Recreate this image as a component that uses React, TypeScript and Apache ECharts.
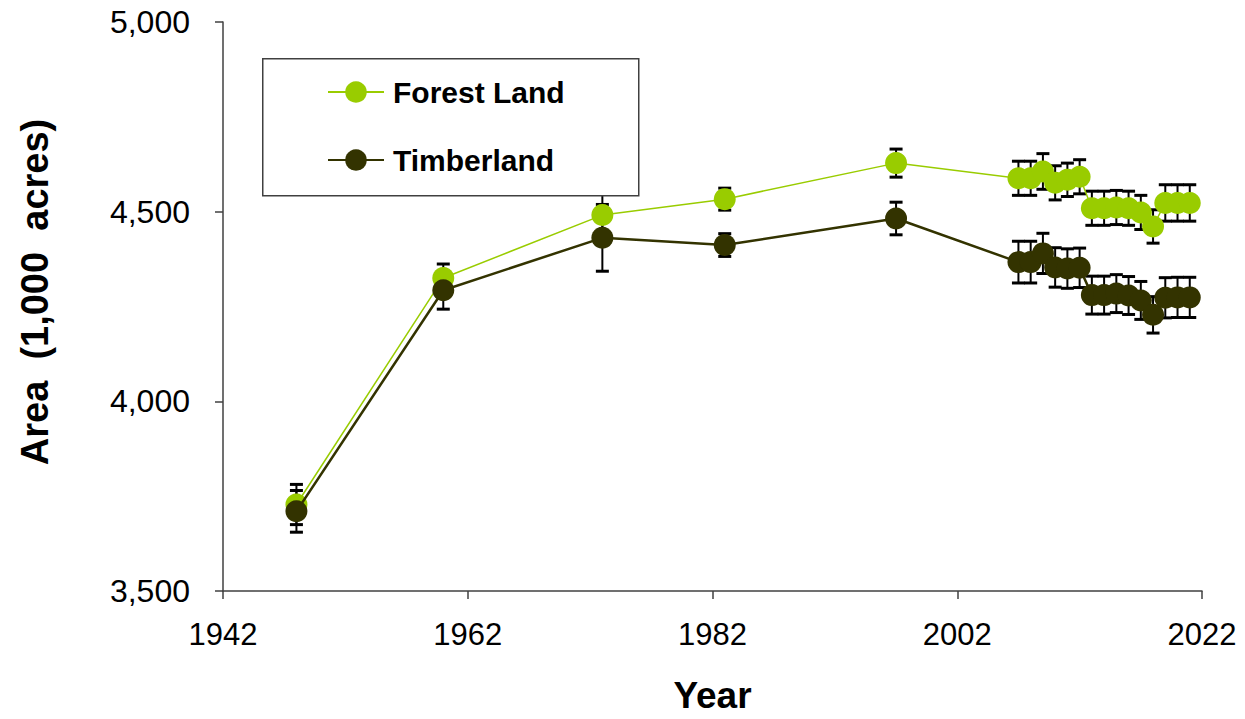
import React, { useEffect, useRef } from "react";
import * as echarts from "echarts";

const years = [1948, 1960, 1973, 1983, 1997, 2007, 2008, 2009, 2010, 2011, 2012, 2013, 2014, 2015, 2016, 2017, 2018, 2019, 2020, 2021];
const forestLand = [3728, 4325, 4491, 4533, 4628, 4588, 4588, 4606, 4576, 4584, 4592, 4509, 4509, 4511, 4509, 4498, 4461, 4523, 4523, 4523];
const forestErr = [53, 37, 60, 29, 37, 45, 45, 47, 45, 44, 45, 45, 45, 45, 45, 45, 44, 48, 48, 48];
const timberland = [3710, 4293, 4431, 4412, 4482, 4367, 4367, 4390, 4353, 4350, 4352, 4280, 4280, 4284, 4279, 4266, 4228, 4273, 4274, 4274];
const timberErr = [55, 50, 88, 30, 43, 55, 55, 53, 52, 52, 52, 50, 50, 50, 50, 50, 48, 53, 53, 53];
const xTicks = [1942, 1962, 1982, 2002, 2022];

const FOREST = "#99CC00";
const TIMBER = "#333300";
const FONT = "Liberation Sans, Arial, sans-serif";

function errData(vals: number[], errs: number[]) {
  return years.map((y, i) => [y, vals[i] - errs[i], vals[i] + errs[i]]);
}

function renderErr(params: any, api: any) {
  const x = api.value(0);
  const lo = api.coord([x, api.value(1)]);
  const hi = api.coord([x, api.value(2)]);
  const w = 6.5;
  const st = { stroke: "#000", lineWidth: 2 };
  const cap = { stroke: "#000", lineWidth: 3 };
  return {
    type: "group",
    children: [
      { type: "line", shape: { x1: hi[0], y1: hi[1], x2: lo[0], y2: lo[1] }, style: st },
      { type: "line", shape: { x1: hi[0] - w, y1: hi[1], x2: hi[0] + w, y2: hi[1] }, style: cap },
      { type: "line", shape: { x1: lo[0] - w, y1: lo[1], x2: lo[0] + w, y2: lo[1] }, style: cap },
    ],
  };
}

export default function App() {
  const ref = useRef<HTMLDivElement>(null);
  useEffect(() => {
    if (!ref.current) return;
    const chart = echarts.init(ref.current, undefined, { renderer: "svg" });
    const legendText = { fontFamily: FONT, fontSize: 30, fontWeight: "bold", color: "#000", padding: [0, 0, 0, 4] };
    chart.setOption({
      animation: false,
      backgroundColor: "#fff",
      grid: { left: 223, right: 43, top: 22, bottom: 128, containLabel: false, outerBoundsMode: "none" },
      xAxis: {
        type: "value",
        min: 1942,
        max: 2022,
        name: "Year",
        nameLocation: "middle",
        nameGap: 86,
        nameTextStyle: { fontFamily: FONT, fontSize: 37, fontWeight: "bold", color: "#000" },
        axisLine: { lineStyle: { color: "#404040", width: 1.5 } },
        axisTick: { show: true, length: 8, inside: false, customValues: xTicks, lineStyle: { color: "#404040", width: 1.5 } },
        axisLabel: {
          customValues: xTicks,
          margin: 28,
          fontFamily: FONT,
          fontSize: 31,
          color: "#000",
          formatter: (v: number) => String(v),
        },
        splitLine: { show: false },
      },
      yAxis: {
        type: "value",
        min: 3500,
        max: 5000,
        interval: 500,
        axisLine: { show: true, lineStyle: { color: "#404040", width: 1.5 } },
        axisTick: { show: true, length: 8, lineStyle: { color: "#404040", width: 1.5 } },
        axisLabel: {
          margin: 33,
          fontFamily: FONT,
          fontSize: 32,
          color: "#000",
          formatter: (v: number) => v.toLocaleString("en-US"),
        },
        splitLine: { show: false },
      },
      legend: [
        {
          data: ["Forest Land"],
          left: 327,
          top: 77,
          padding: 0,
          itemWidth: 56,
          itemHeight: 27,
          textStyle: legendText,
          z: 20,
          selectedMode: false,
        },
        {
          data: ["Timberland"],
          left: 327,
          top: 145,
          padding: 0,
          itemWidth: 56,
          itemHeight: 27,
          textStyle: legendText,
          z: 20,
          selectedMode: false,
        },
      ],
      graphic: [
        {
          type: "rect",
          left: 262,
          top: 58,
          z: 10,
          shape: { width: 376, height: 137 },
          style: { fill: "#fff", stroke: "#404040", lineWidth: 1.5 },
        },
        {
          type: "text",
          x: 35,
          y: 292,
          rotation: Math.PI / 2,
          z: 10,
          style: {
            text: "Area  (1,000  acres)",
            fontFamily: FONT,
            fontSize: 38,
            fontWeight: "bold",
            fill: "#000",
            align: "center",
            verticalAlign: "middle",
          },
        },
      ],
      series: [
        {
          name: "Forest Land err",
          type: "custom",
          renderItem: renderErr,
          data: errData(forestLand, forestErr),
          encode: { x: 0, y: [1, 2] },
          z: 1,
          silent: true,
        },
        {
          name: "Timberland err",
          type: "custom",
          renderItem: renderErr,
          data: errData(timberland, timberErr),
          encode: { x: 0, y: [1, 2] },
          z: 1,
          silent: true,
        },
        {
          name: "Forest Land",
          type: "line",
          data: years.map((y, i) => [y, forestLand[i]]),
          symbol: "circle",
          symbolSize: 22,
          itemStyle: { color: FOREST },
          lineStyle: { color: FOREST, width: 1.5 },
          z: 3,
        },
        {
          name: "Timberland",
          type: "line",
          data: years.map((y, i) => [y, timberland[i]]),
          symbol: "circle",
          symbolSize: 22,
          itemStyle: { color: TIMBER },
          lineStyle: { color: TIMBER, width: 2.5 },
          z: 4,
        },
      ],
    });
    return () => chart.dispose();
  }, []);
  return (
    <div
      ref={ref}
      style={{ position: "fixed", left: 0, top: 0, width: 1245, height: 719 }}
    />
  );
}
